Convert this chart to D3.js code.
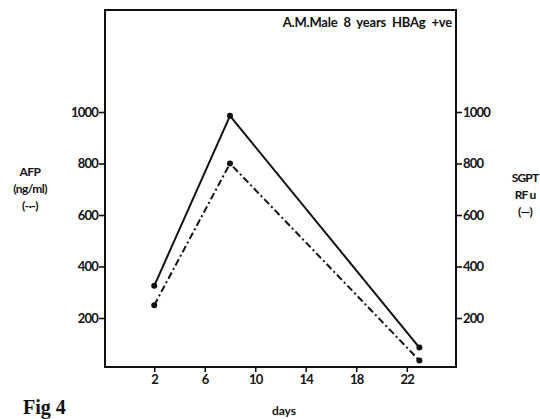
<!DOCTYPE html>
<html>
<head>
    <meta charset="utf-8">
    <script src="https://cdn.jsdelivr.net/npm/d3@7"></script>
    <style>
        body { margin: 0; background: #fff; }
        svg text { font-family: Lato, "DejaVu Sans", sans-serif; font-weight: bold; fill: #111; }
    </style>
</head>
<body>
    <script>
        // data
        var days = [2, 8, 23];
        var afp = [250, 800, 35];     // dash-dot line, left axis
        var sgpt = [325, 985, 85];    // solid line, right axis
        var xTicks = [2, 6, 10, 14, 18, 22];
        var yTicks = [200, 400, 600, 800, 1000];

        var w = 540, h = 419;
        var mLeft = 105, mRight = 456, mTop = 10, mBottom = 367;

        var x = d3.scaleLinear().domain([-1.9, 25.9]).range([mLeft, mRight]);
        var y = d3.scaleLinear().domain([0, 1400]).range([369.5, 9]);

        var svg = d3.select('body')
            .append('svg')
            .attr('width', w)
            .attr('height', h);

        // frame
        svg.append('rect')
            .attr('x', mLeft).attr('y', mTop)
            .attr('width', mRight - mLeft).attr('height', mBottom - mTop)
            .attr('fill', 'none').attr('stroke', '#111').attr('stroke-width', 2);

        var yl = svg.append('g')
            .attr('transform', 'translate(' + mLeft + ',0)')
            .call(d3.axisLeft(y).tickValues(yTicks).tickSize(6).tickPadding(1).tickFormat(d3.format('d')));
        var yr = svg.append('g')
            .attr('transform', 'translate(' + mRight + ',0)')
            .call(d3.axisRight(y).tickValues(yTicks).tickSize(6).tickPadding(1).tickFormat(d3.format('d')));
        var xb = svg.append('g')
            .attr('transform', 'translate(0,' + mBottom + ')')
            .call(d3.axisBottom(x).tickValues(xTicks).tickSize(5).tickPadding(3));

        [yl, yr, xb].forEach(function (g) {
            g.select('.domain').remove();
            g.selectAll('line').attr('stroke', '#111').attr('stroke-width', 1.6);
            g.selectAll('text')
                .attr('fill', '#111')
                .style('font-family', 'Lato, sans-serif')
                .style('font-weight', 'bold')
                .style('font-size', '13px')
                .style('letter-spacing', '-0.8px');
        });

        var ptsAfp = days.map(function (d, i) { return [x(d), y(afp[i])]; });
        var ptsSgpt = days.map(function (d, i) { return [x(d), y(sgpt[i])]; });
        var line = d3.line();

        svg.append('path')
            .attr('d', line(ptsSgpt))
            .attr('fill', 'none').attr('stroke', '#111').attr('stroke-width', 2);
        svg.append('path')
            .attr('d', line(ptsAfp))
            .attr('fill', 'none').attr('stroke', '#111').attr('stroke-width', 2)
            .attr('stroke-dasharray', '7,3,2,3');

        svg.selectAll('circle.s')
            .data(ptsSgpt).enter().append('circle')
            .attr('cx', function (d) { return d[0]; })
            .attr('cy', function (d) { return d[1]; })
            .attr('r', 3).attr('fill', '#111');
        svg.selectAll('circle.a')
            .data(ptsAfp).enter().append('circle')
            .attr('cx', function (d) { return d[0]; })
            .attr('cy', function (d) { return d[1]; })
            .attr('r', 3).attr('fill', '#111');

        // labels
        svg.append('text')
            .attr('x', 452).attr('y', 27)
            .attr('text-anchor', 'end')
            .style('font-size', '13px')
            .style('white-space', 'pre')
            .style('letter-spacing', '-0.2px')
            .text('A.M.Male  8  years  HBAg  +ve');

        var afpLab = ['AFP', '(ng/ml)', '(-·-)'];
        svg.selectAll('text.afp')
            .data(afpLab).enter().append('text')
            .attr('x', 30)
            .attr('y', function (d, i) { return 176 + i * 17; })
            .attr('text-anchor', 'middle')
            .style('font-size', '12px')
            .style('letter-spacing', '-0.6px')
            .text(function (d) { return d; });

        var sgptLab = ['SGPT', 'RF u', '(—)'];
        svg.selectAll('text.sg')
            .data(sgptLab).enter().append('text')
            .attr('x', 525)
            .attr('y', function (d, i) { return 182 + i * 17; })
            .attr('text-anchor', 'middle')
            .style('font-size', '12px')
            .style('letter-spacing', '-0.8px')
            .text(function (d) { return d; });

        svg.append('text')
            .attr('x', 284).attr('y', 415)
            .attr('text-anchor', 'middle')
            .style('font-size', '12px')
            .text('days');

        svg.append('text')
            .attr('x', 23).attr('y', 414)
            .style('font-family', '"Liberation Serif", "DejaVu Serif", serif')
            .style('font-size', '20px')
            .text('Fig 4');
    </script>
</body>
</html>
